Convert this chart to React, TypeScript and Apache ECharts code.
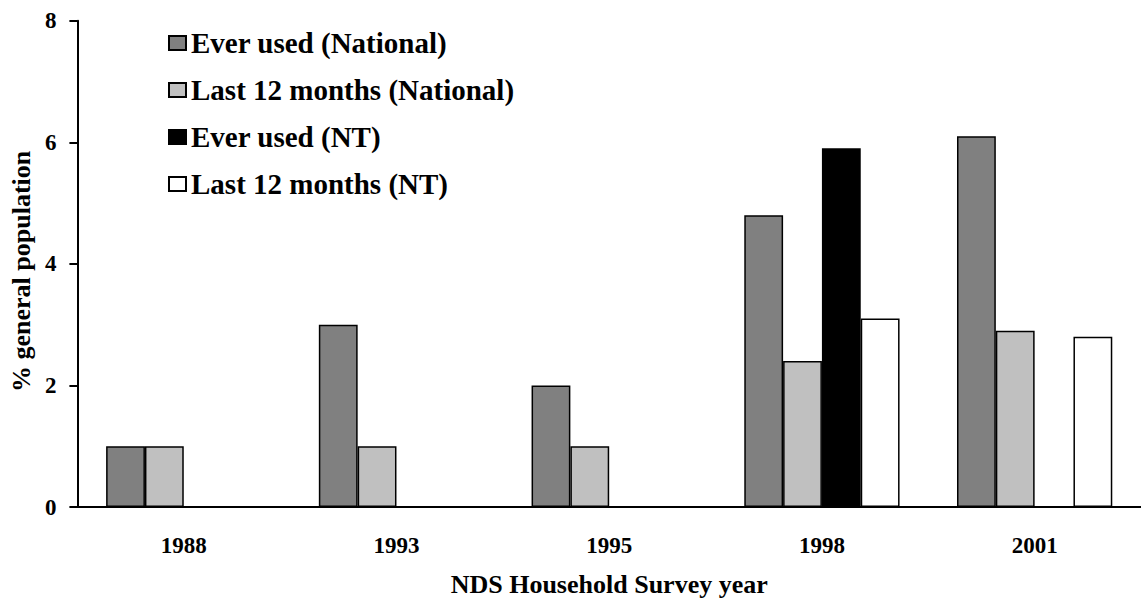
import React, { useEffect, useRef } from "react";
import * as echarts from "echarts";

const categories = ["1988", "1993", "1995", "1998", "2001"];
const everNational = [1.0, 3.0, 2.0, 4.8, 6.1];
const last12National = [1.0, 1.0, 1.0, 2.4, 2.9];
const everNT = [null, null, null, 5.9, null];
const last12NT = [null, null, null, 3.1, 2.8];
const seriesNames = [
  "Ever used (National)",
  "Last 12 months (National)",
  "Ever used (NT)",
  "Last 12 months (NT)",
];
const seriesColors = ["#808080", "#C0C0C0", "#000000", "#FFFFFF"];
const yTicks = { min: 0, max: 8, interval: 2 };

const FONT = "Liberation Serif";

export default function App() {
  const ref = useRef<HTMLDivElement>(null);
  useEffect(() => {
    if (!ref.current) return;
    const chart = echarts.init(ref.current, null, { renderer: "svg" });
    const data = [everNational, last12National, everNT, last12NT];
    chart.setOption({
      animation: false,
      backgroundColor: "#ffffff",
      textStyle: { fontFamily: FONT, fontWeight: "bold", color: "#000" },
      grid: { left: 76, top: 20.7, height: 486.8, width: 1070 },
      legend: {
        orient: "vertical",
        left: 163,
        top: 23,
        icon: "rect",
        itemWidth: 17,
        itemHeight: 14,
        itemGap: 17,
        data: seriesNames,
        textStyle: {
          fontFamily: FONT,
          fontWeight: "bold",
          fontSize: 29,
          lineHeight: 30,
          color: "#000",
        },
      },
      xAxis: {
        type: "category",
        data: categories,
        name: "NDS Household Survey year",
        nameLocation: "middle",
        nameGap: 64,
        nameTextStyle: { fontFamily: FONT, fontWeight: "bold", fontSize: 26, color: "#000" },
        axisLine: { lineStyle: { color: "#000", width: 2 } },
        axisTick: { length: 8, lineStyle: { color: "#000", width: 2 } },
        axisLabel: { fontFamily: FONT, fontWeight: "bold", fontSize: 23, color: "#000", margin: 27 },
      },
      yAxis: {
        type: "value",
        min: yTicks.min,
        max: yTicks.max,
        interval: yTicks.interval,
        name: "% general population",
        nameLocation: "middle",
        nameGap: 41,
        nameTextStyle: {
          fontFamily: FONT,
          fontWeight: "bold",
          fontSize: 26,
          color: "#000",
          padding: [0, 15, 0, 0],
        },
        axisLine: { show: true, lineStyle: { color: "#000", width: 2 } },
        axisTick: { show: true, length: 8, lineStyle: { color: "#000", width: 2 } },
        axisLabel: { fontFamily: FONT, fontWeight: "bold", fontSize: 23, color: "#000", margin: 21 },
        splitLine: { show: false },
      },
      series: seriesNames.map((name, i) => ({
        name,
        type: "bar",
        data: data[i],
        barGap: "0%",
        barCategoryGap: "27%",
        itemStyle: { color: seriesColors[i], borderColor: "#000", borderWidth: 1.5 },
      })),
    });
    return () => chart.dispose();
  }, []);
  return <div ref={ref} style={{ width: 1141, height: 602, position: "absolute", left: 0, top: 0 }} />;
}
